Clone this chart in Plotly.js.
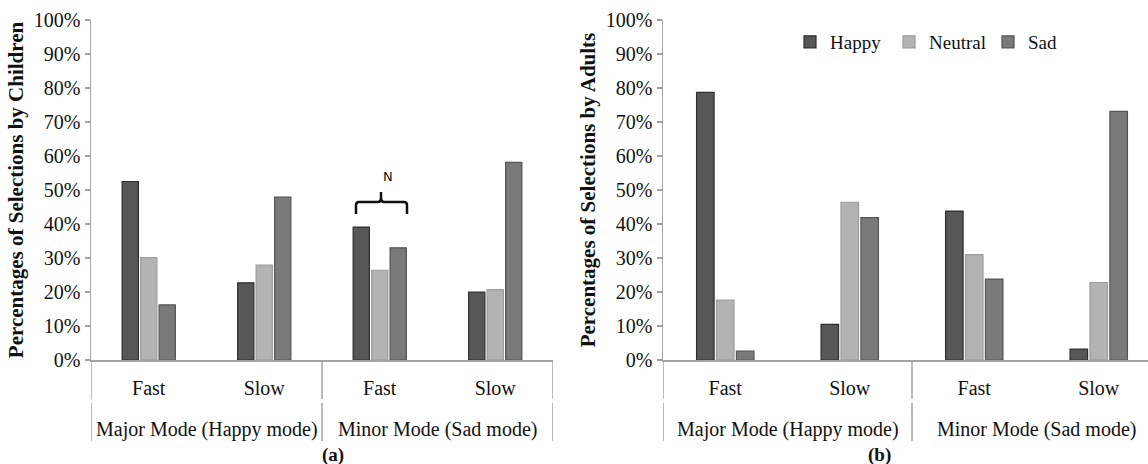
<!DOCTYPE html>
<html>
<head>
<meta charset="utf-8">
<script src="https://cdn.plot.ly/plotly-3.0.1.min.js"></script>
<style>html,body{margin:0;padding:0;background:#fff;}#chart{width:1148px;height:464px;}</style>
</head>
<body>
<div id="chart"></div>
<script>
const modeNames = ["Major Mode (Happy mode)", "Minor Mode (Sad mode)"];
const modes = ["Major Mode (Happy mode)", "Major Mode (Happy mode)", "Minor Mode (Sad mode)", "Minor Mode (Sad mode)"];
const speeds = ["Fast", "Slow", "Fast", "Slow"];
const seriesNames = ["Happy", "Neutral", "Sad"];
const childHappy = [52.5, 22.7, 39.1, 20.0];
const childNeutral = [30.1, 27.9, 26.4, 20.7];
const childSad = [16.2, 47.9, 33.0, 58.1];
const adultHappy = [78.7, 10.5, 43.8, 3.2];
const adultNeutral = [17.6, 46.4, 31.0, 22.8];
const adultSad = [2.6, 41.9, 23.8, 73.1];
const yTicks = [0, 10, 20, 30, 40, 50, 60, 70, 80, 90, 100];

const W = 1148, H = 464;
const px = v => v / W, py = v => (H - v) / H;
const FONT = "'Liberation Serif', 'Times New Roman', serif";
const fills = ["#575757", "#b3b3b3", "#7a7a7a"];
const lines = ["#2e2e2e", "#9c9c9c", "#545454"];

const xpos = speeds.map((s, i) => i);
function bar(name, y, i, xa, ya, show) {
  return {
    type: "bar", name: name, x: xpos, y: y, xaxis: xa, yaxis: ya,
    showlegend: show, legendgroup: name,
    marker: {color: fills[i], line: {color: lines[i], width: 1.2}},
    hovertext: modes.map((m, k) => m + " / " + speeds[k]), hoverinfo: "text+y"
  };
}
const data = [
  bar(seriesNames[0], childHappy, 0, "x", "y", false),
  bar(seriesNames[1], childNeutral, 1, "x", "y", false),
  bar(seriesNames[2], childSad, 2, "x", "y", false),
  bar(seriesNames[0], adultHappy, 0, "x2", "y2", true),
  bar(seriesNames[1], adultNeutral, 1, "x2", "y2", true),
  bar(seriesNames[2], adultSad, 2, "x2", "y2", true)
];

const axisCol = "#a3a3a3";
function xAxis(domain, anchor, rng) {
  return {
    domain: domain, anchor: anchor, range: rng,
    tickvals: xpos, ticktext: speeds, ticklabelstandoff: 9,
    showline: true, linecolor: axisCol, linewidth: 1.5,
    ticks: "", showgrid: false, zeroline: false,
    tickfont: {family: FONT, size: 20, color: "#111"}
  };
}
function yAxis(anchor, title) {
  return {
    domain: [py(360), py(20)], anchor: anchor, range: [0, 100],
    tickvals: yTicks, ticktext: yTicks.map(v => v + "%"),
    showline: true, linecolor: axisCol, linewidth: 1.5,
    ticks: "outside", ticklen: 5, tickcolor: axisCol, tickwidth: 1.5,
    showgrid: false, zeroline: false,
    tickfont: {family: FONT, size: 20, color: "#111"},
    title: {text: title, font: {family: FONT, size: 21, color: "#111"}, standoff: 4}
  };
}

const annotations = [
  {text: "<b>(a)</b>", xref: "paper", yref: "paper", x: px(320), y: py(455), yanchor: "middle", showarrow: false,
   font: {family: FONT, size: 19, color: "#111"}},
  {text: "<b>(b)</b>", xref: "paper", yref: "paper", x: px(893), y: py(455), yanchor: "middle", showarrow: false,
   font: {family: FONT, size: 19, color: "#111"}},
  {text: "N", xref: "paper", yref: "paper", x: px(381), y: py(176), yanchor: "middle", showarrow: false,
   font: {family: "'DejaVu Sans', sans-serif", size: 13, color: "#111"}}
];
["x", "x2"].forEach(xr => {
  modeNames.forEach((m, g) => {
    annotations.push({text: m, xref: xr, yref: "paper", x: 0.5 + 2 * g, y: py(429), yanchor: "middle",
      showarrow: false, font: {family: FONT, size: 20, color: "#111"}});
  });
});

const shapes = [
  {type: "path", xref: "paper", yref: "paper",
   path: "M " + px(356) + "," + py(214) + " L " + px(356) + "," + py(205) +
         " Q " + px(356) + "," + py(202) + " " + px(359) + "," + py(202) +
         " L " + px(378) + "," + py(202) +
         " Q " + px(381) + "," + py(202) + " " + px(381) + "," + py(198) +
         " L " + px(381) + "," + py(192) +
         " M " + px(381) + "," + py(198) +
         " Q " + px(381) + "," + py(202) + " " + px(384) + "," + py(202) +
         " L " + px(404) + "," + py(202) +
         " Q " + px(407) + "," + py(202) + " " + px(407) + "," + py(205) +
         " L " + px(407) + "," + py(214),
   line: {color: "#111", width: 2.5}}
];
["x", "x2"].forEach(xr => {
  [-0.5, 1.5, 3.5].forEach(b => {
    [[360, 399], [403, 441]].forEach(seg => {
      shapes.push({type: "line", xref: xr, yref: "paper", x0: b, x1: b,
        y0: py(seg[0]), y1: py(seg[1]), line: {color: axisCol, width: 1.5}});
    });
  });
});

const layout = {
  width: W, height: H,
  margin: {l: 0, r: 0, t: 0, b: 0},
  paper_bgcolor: "#fff", plot_bgcolor: "#fff",
  barmode: "group", bargap: 0.52, bargroupgap: 0.12,
  xaxis: xAxis([px(91), px(553)], "y", [-0.5, 3.5]),
  yaxis: yAxis("x", "<b>Percentages of Selections by Children</b>"),
  xaxis2: xAxis([px(663), 1], "y2", [-0.5, (W - 663) / 124.5 - 0.5]),
  yaxis2: yAxis("x2", "<b>Percentages of Selections by Adults</b>"),
  showlegend: true,
  legend: {
    orientation: "h", x: px(790), y: py(23), xanchor: "left", yanchor: "top",
    font: {family: FONT, size: 19, color: "#111"},
    entrywidth: 54, entrywidthmode: "pixels", bgcolor: "rgba(0,0,0,0)",
    itemclick: false, itemdoubleclick: false
  },
  annotations: annotations,
  shapes: shapes
};

Plotly.newPlot("chart", data, layout, {staticPlot: true, displayModeBar: false});
</script>
</body>
</html>
